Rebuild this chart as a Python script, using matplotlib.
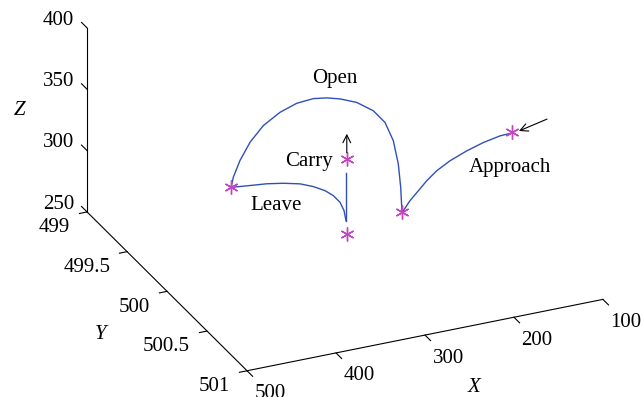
import matplotlib
matplotlib.use('Agg')
import matplotlib.pyplot as plt
from mpl_toolkits.mplot3d import proj3d

plt.rcParams['font.family'] = ['Liberation Serif', 'DejaVu Serif']
plt.rcParams['font.size'] = 15

# trayectoria en el plano y = 500 (x, z)
y_plano = 500.0
approach_x = [110.9, 125.8, 144.6, 163.3, 182.0, 197.0, 208.2, 217.6, 227.0, 234.5, 236.0]
approach_z = [322.8, 322.3, 319.6, 315.5, 310.2, 304.2, 297.7, 290.9, 284.2, 277.1, 276.5]
open_x = [236.0, 237.4, 240.1, 245.7, 255.1, 268.2, 286.9, 305.6, 320.6, 335.6, 354.3,
          373.0, 391.8, 406.7, 418.0, 425.5, 428.0]
open_z = [276.5, 296.5, 316.0, 335.8, 352.1, 363.5, 373.0, 378.6, 381.6, 383.2, 382.1,
          377.5, 369.4, 358.0, 344.8, 332.3, 324.3]
leave_x = [428.0, 406.7, 388.0, 369.3, 350.6, 335.6, 322.5, 313.1, 305.6, 301.1, 298.9]
leave_z = [324.3, 322.7, 321.4, 319.1, 315.9, 311.5, 306.3, 300.8, 294.3, 286.9, 278.4]
carry_x = [298.9, 298.9]
carry_z = [278.4, 317.4]

# puntos de paso
wp_x = [112.4, 236.0, 297.8, 297.8, 428.0]
wp_z = [323.5, 276.5, 267.6, 328.7, 324.3]

# ticks
x_ticks = [100, 200, 300, 400, 500]
y_ticks = [499, 499.5, 500, 500.5, 501]
y_labels = ['499', '499.5', '500', '500.5', '501']
z_ticks = [250, 300, 350, 400]

fig = plt.figure(figsize=(6.41, 3.97), dpi=100)
ax = fig.add_axes([0.0802, -0.1517, 0.892, 1.44], projection='3d', proj_type='ortho')
ax.set_xlim(100, 500)
ax.set_ylim(499, 501)
ax.set_zlim(250, 400)
ax.set_box_aspect((1, 1, 0.527))
ax.view_init(elev=26.5, azim=65.8)
ax.set_axis_off()
ax.computed_zorder = False

negro = 'black'
lw_eje = 0.8


def a_2d(p):
    x2, y2, _ = proj3d.proj_transform(*p, ax.get_proj())
    return x2, y2


def etiqueta(p, s, **kw):
    x2, y2 = a_2d(p)
    ax.text2D(x2, y2, s, transform=ax.transData, **kw)


def flecha(p0, p1):
    ax.annotate('', xy=a_2d(p1), xytext=a_2d(p0), annotation_clip=False,
                arrowprops=dict(arrowstyle='->', color=negro, lw=0.8,
                                shrinkA=0, shrinkB=0, mutation_scale=14))


# ejes
ax.plot([500, 500], [499, 499], [250, 400], color=negro, lw=lw_eje)
ax.plot([500, 500], [499, 501], [250, 250], color=negro, lw=lw_eje)
ax.plot([500, 100], [501, 501], [250, 250], color=negro, lw=lw_eje)

for z in z_ticks:
    ax.plot([500, 500], [499, 498.93], [z, z], color=negro, lw=lw_eje)
    etiqueta((500, 498.64, z - 17), str(z), ha='center', va='center')
for y, lab in zip(y_ticks, y_labels):
    ax.plot([500, 508.6], [y, y], [250, 250], color=negro, lw=lw_eje)
    etiqueta((519, y, 240), lab, ha='right', va='center')
for x in x_ticks:
    ax.plot([x, x], [501, 501.07], [250, 250], color=negro, lw=lw_eje)
    etiqueta((x, 501.29, 250), str(x), ha='center', va='center')

etiqueta((303, 501.65, 250), 'X', ha='center', va='center', style='italic')
etiqueta((599.8, 500.285, 247.5), 'Y', ha='center', va='center', style='italic')
etiqueta((500, 498.15, 277.5), 'Z', ha='center', va='center', style='italic')

# trayectoria
azul = '#3050b8'
for xs, zs in [(approach_x, approach_z), (open_x, open_z), (leave_x, leave_z), (carry_x, carry_z)]:
    ax.plot(xs, zs, zs=y_plano, zdir='y', color=azul, lw=1.0)

ax.plot(wp_x, wp_z, zs=y_plano, zdir='y', ls='none', marker=(6, 2, 0),
        ms=10, mew=1.0, color='#c445c0')

# flechas
flecha((73, y_plano, 328.3), (104.5, y_plano, 323.2))
flecha((298, y_plano, 333.6), (298, y_plano, 349.1))

# etiquetas de fases
etiqueta((312, y_plano, 396), 'Open', ha='center', va='center')
etiqueta((340, y_plano, 332.5), 'Carry', ha='center', va='center')
etiqueta((377.5, y_plano, 302.2), 'Leave', ha='center', va='center')
etiqueta((114.6, y_plano, 295.3), 'Approach', ha='center', va='center')

fig.savefig('out.png', dpi=100)
